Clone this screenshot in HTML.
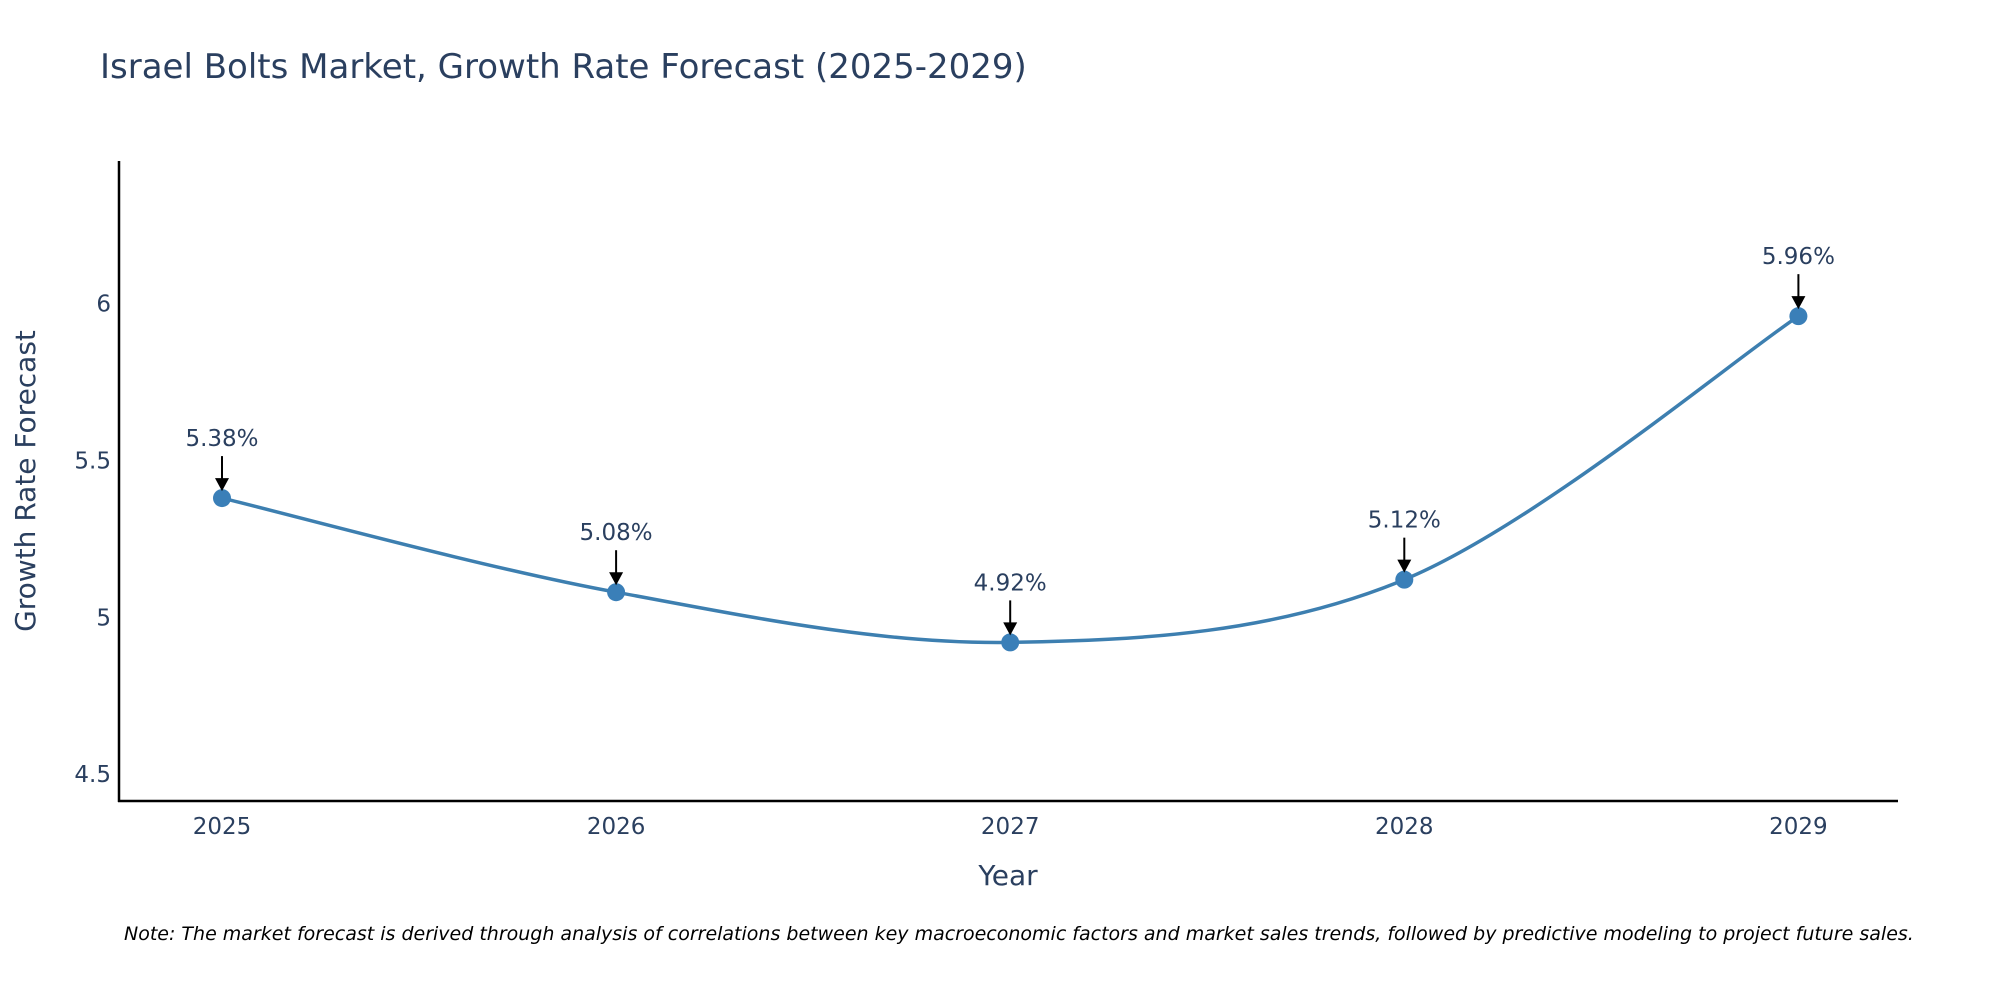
<!DOCTYPE html>
<html><head><meta charset="utf-8"><style>
body{margin:0;background:#fff;font-family:"DejaVu Sans",sans-serif;}
svg text{font-family:"DejaVu Sans",sans-serif;}
</style></head><body>
<svg width="2000" height="1000" xmlns="http://www.w3.org/2000/svg">
<text x="100" y="78" font-size="34" fill="#2a3f5f">Israel Bolts Market, Growth Rate Forecast (2025-2029)</text>
<g id="yticks"></g>
<g id="xticks"></g>
<line x1="119" y1="161" x2="119" y2="802" stroke="#000" stroke-width="2.5"/>
<line x1="118" y1="801" x2="1898" y2="801" stroke="#000" stroke-width="2.5"/>
<path id="line" fill="none" stroke="#3d7fb0" stroke-width="3.5"/>
<g id="marks"></g>
<text x="0" y="0" transform="translate(35,481) rotate(-90)" text-anchor="middle" font-size="28" fill="#2a3f5f">Growth Rate Forecast</text>
<text x="1008" y="885" text-anchor="middle" font-size="28" fill="#2a3f5f">Year</text>
<text x="124" y="940" font-size="19" font-style="italic" fill="#000">Note: The market forecast is derived through analysis of correlations between key macroeconomic factors and market sales trends, followed by predictive modeling to project future sales.</text>
</svg>
<script>
const years=[2025,2026,2027,2028,2029];
const values=[5.38,5.08,4.92,5.12,5.96];
const labels=["5.38%","5.08%","4.92%","5.12%","5.96%"];
const yTicks=[4.5,5,5.5,6];
const NS="http://www.w3.org/2000/svg";
const X=v=>222+(v-2025)*394.1;
const Y=v=>303.6-(v-6)*313.7;
function mk(t,a,p){const e=document.createElementNS(NS,t);for(const k in a)e.setAttribute(k,a[k]);p.appendChild(e);return e;}
const yt=document.getElementById('yticks');
yTicks.forEach(v=>{const t=mk('text',{x:111,y:Y(v)+8,'text-anchor':'end','font-size':23,fill:'#2a3f5f'},yt);t.textContent=v;

});
const xt=document.getElementById('xticks');
years.forEach(v=>{const t=mk('text',{x:X(v),y:834,'text-anchor':'middle','font-size':23,fill:'#2a3f5f'},xt);t.textContent=v;

});
const P=years.map((y,i)=>[X(y),Y(values[i])]);
let d=`M${P[0][0]},${P[0][1]}`;const s=0.33;
for(let i=0;i<P.length-1;i++){const p0=P[Math.max(i-1,0)],p1=P[i],p2=P[i+1],p3=P[Math.min(i+2,P.length-1)];
d+=` C${p1[0]+(p2[0]-p0[0])*s/2},${p1[1]+(p2[1]-p0[1])*s/2} ${p2[0]-(p3[0]-p1[0])*s/2},${p2[1]-(p3[1]-p1[1])*s/2} ${p2[0]},${p2[1]}`;}
document.getElementById('line').setAttribute('d',d);
const g=document.getElementById('marks');
P.forEach((p,i)=>{
const c=mk('circle',{cx:p[0],cy:p[1],r:9,fill:'#3a7fb8'},g);


const l=mk('line',{x1:p[0],y1:p[1]-42,x2:p[0],y2:p[1]-18,stroke:'#000','stroke-width':2},g);


const h=mk('polygon',{points:`${p[0]-7},${p[1]-20} ${p[0]+7},${p[1]-20} ${p[0]},${p[1]-7}`,fill:'#000'},g);


const t=mk('text',{x:p[0],y:p[1]-52,'text-anchor':'middle','font-size':23,fill:'#2a3f5f'},g);t.textContent=labels[i];


});
</script>
</body></html>
